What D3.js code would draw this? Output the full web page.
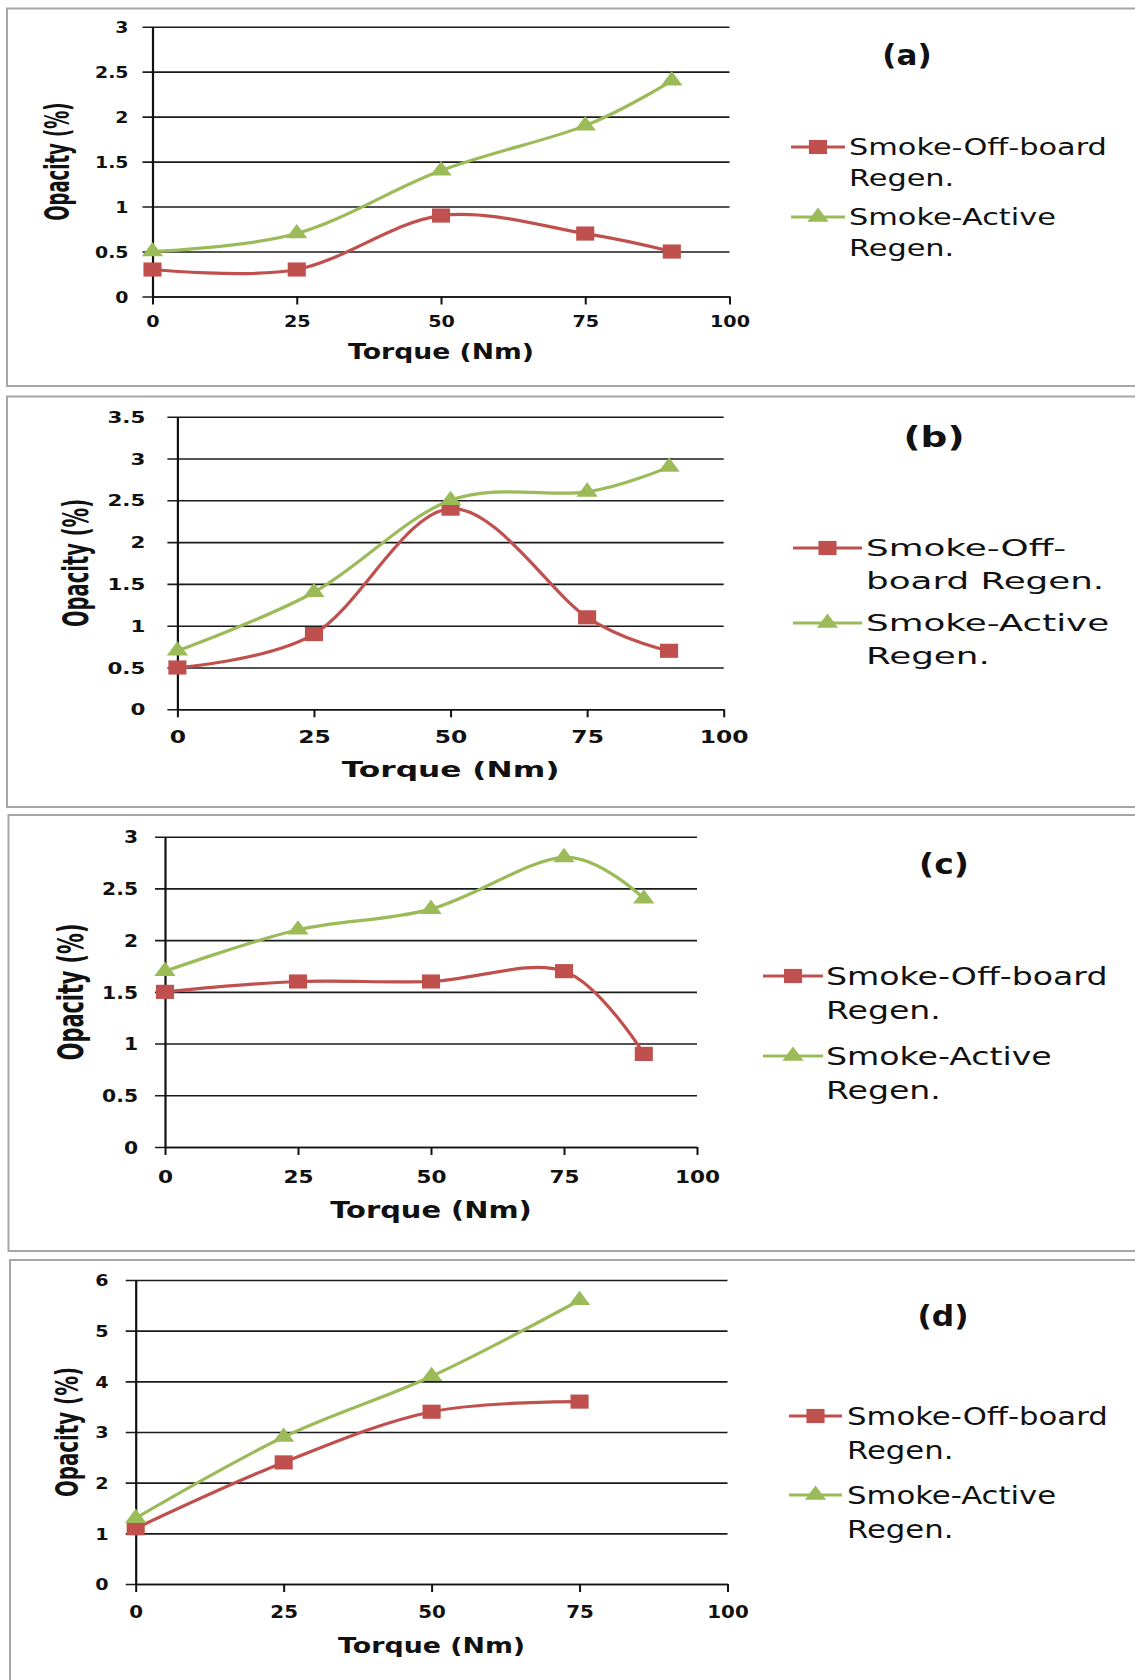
<!DOCTYPE html>
<html>
<head>
<meta charset="utf-8">
<script src="https://cdn.jsdelivr.net/npm/d3@7"></script>
<style>
  body { margin: 0; background: #fff; }
  svg { display: block; }
</style>
</head>
<body>
<div id="chart"></div>
<script>
// torque settings (Nm)
const torque = [0, 25, 50, 75, 90];
const torqueD = [0, 25, 50, 75];
const torqueTicks = [0, 25, 50, 75, 100];

// opacity (%)
const offboardA = [0.3, 0.3, 0.9, 0.7, 0.5];
const activeA = [0.5, 0.7, 1.4, 1.9, 2.4];
const offboardB = [0.5, 0.9, 2.4, 1.1, 0.7];
const activeB = [0.7, 1.4, 2.5, 2.6, 2.9];
const offboardC = [1.5, 1.6, 1.6, 1.7, 0.9];
const activeC = [1.7, 2.1, 2.3, 2.8, 2.4];
const offboardD = [1.1, 2.4, 3.4, 3.6];
const activeD = [1.3, 2.9, 4.1, 5.6];

// y tick labels
const yTicks3 = [0, 0.5, 1, 1.5, 2, 2.5, 3];
const yTicks35 = [0, 0.5, 1, 1.5, 2, 2.5, 3, 3.5];
const yTicks6 = [0, 1, 2, 3, 4, 5, 6];

const panelLabels = ['(a)', '(b)', '(c)', '(d)'];
const xTitle = 'Torque (Nm)';
const yTitle = 'Opacity (%)';
// legend text, already broken into lines like the original
const legendWrapped = [['Smoke-Off-board', 'Regen.'], ['Smoke-Active', 'Regen.']];
const legendWrappedB = [['Smoke-Off-', 'board Regen.'], ['Smoke-Active', 'Regen.']];

const W = 1135, H = 1680;
const RED = '#C0504D', GREEN = '#9BBB59', INK = '#111';
const FONT = 'DejaVu Sans';

// layout of every panel (pixels), kept apart from the data
const panels = [
  { label: panelLabels[0], xs: torque, series: [offboardA, activeA], yTicks: yTicks3, legend: legendWrapped,
    box: [7, 8.5, 386], plot: [152.5, 729.5, 26.7, 296.5], sx: 1.35,
    yPad: 24, fy: 14, xLab: 30, fx: 14.2, tOff: 62, ft: 19.8,
    op: [69, 18, 1.89], title: [907, 55, 29, 1.07], leg: [791, 845, 849, [147, 217], 31, 22.5] },
  { label: panelLabels[1], xs: torque, series: [offboardB, activeB], yTicks: yTicks35, legend: legendWrappedB,
    box: [7, 396.5, 807], plot: [177.4, 723.7, 416.7, 709.3], sx: 1.52,
    yPad: 32, fy: 14.1, xLab: 33, fx: 15.4, tOff: 68, ft: 20.6,
    op: [88, 19.5, 1.82], title: [934, 437, 29, 1.29], leg: [793, 862, 866, [548, 623], 33, 23.5] },
  { label: panelLabels[2], xs: torque, series: [offboardC, activeC], yTicks: yTicks3, legend: legendWrapped,
    box: [8.5, 815, 1251], plot: [165, 697, 836.7, 1147], sx: 1.30,
    yPad: 27, fy: 15.6, xLab: 35, fx: 16.6, tOff: 71, ft: 22.3,
    op: [83, 20.8, 1.68], title: [944, 864, 29, 1.14], leg: [763, 823, 826, [976, 1056], 34, 25.5] },
  { label: panelLabels[3], xs: torqueD, series: [offboardD, activeD], yTicks: yTicks6, legend: legendWrapped,
    box: [10, 1260, 1700], plot: [135.7, 727.5, 1280, 1584], sx: 1.28,
    yPad: 27, fy: 15, xLab: 33, fx: 15.5, tOff: 69, ft: 21,
    op: [78, 19.8, 1.62], title: [943, 1316, 29, 1.08], leg: [789, 842, 847, [1416, 1495], 34, 24] }
];

const svg = d3.select('#chart').append('svg')
  .attr('width', W).attr('height', H)
  .attr('font-family', FONT);

svg.append('rect').attr('width', W).attr('height', H).attr('fill', '#fff');

const seriesColors = [RED, GREEN];
const markerTypes = [d3.symbolSquare, d3.symbolTriangle];
const markerSizes = [200, 120];

function marker(parent, i, cx, cy) {
  parent.append('path')
    .attr('d', d3.symbol(markerTypes[i], markerSizes[i])())
    .attr('transform', `translate(${cx},${cy}) scale(1.28,1)`)
    .attr('fill', seriesColors[i]);
}

// text with the horizontal stretch of the original screenshot
function stretched(parent, txt, x, y, sx, rotate) {
  return parent.append('text')
    .attr('transform', `translate(${x},${y}) scale(${sx},1)` + (rotate ? ' rotate(-90)' : ''))
    .attr('fill', INK)
    .text(txt);
}

function drawPanel(p) {
  const g = svg.append('g');

  g.append('rect')
    .attr('x', p.box[0]).attr('y', p.box[1])
    .attr('width', W + 20 - p.box[0]).attr('height', p.box[2] - p.box[1])
    .attr('fill', '#fff').attr('stroke', '#a6a6a6').attr('stroke-width', 2);

  const [x0, x1, yTop, yBot] = p.plot;
  const x = d3.scaleLinear().domain([0, 100]).range([x0, x1]);
  const y = d3.scaleLinear().domain([0, d3.max(p.yTicks)]).range([yBot, yTop]);

  // horizontal gridlines, starting at the outside tick marks
  const grid = g.append('g')
    .attr('transform', `translate(${x0 - 10},0)`)
    .call(d3.axisLeft(y).tickValues(p.yTicks).tickSize(-(x1 - x0 + 10)).tickFormat(''));
  grid.select('.domain').remove();
  grid.selectAll('line').attr('stroke', '#1a1a1a').attr('stroke-width', 1.6);

  // tick labels are a bit taller than they are wide in the original
  const fy = p.fy + 1.6, sy = p.sx * p.fy / fy;
  const fx = p.fx + 1.6, sxx = p.sx * p.fx / fx;

  // y axis line and labels
  const yAxis = g.append('g')
    .attr('transform', `translate(${x0},0)`)
    .call(d3.axisLeft(y).tickValues(p.yTicks).tickSize(0).tickSizeOuter(0).tickFormat(d3.format('')));
  yAxis.attr('font-family', null).attr('font-size', null);
  yAxis.select('.domain').attr('stroke', '#111').attr('stroke-width', 2.2);
  yAxis.selectAll('text')
    .attr('x', -p.yPad / sy)
    .attr('dy', '0.36em')
    .attr('transform', `scale(${sy},1)`)
    .attr('font-size', fy).attr('font-weight', 'bold').attr('fill', INK);

  // x axis ticks and labels
  const xAxis = g.append('g')
    .attr('transform', `translate(0,${yBot})`)
    .call(d3.axisBottom(x).tickValues(torqueTicks).tickSize(8).tickSizeOuter(0));
  xAxis.attr('font-family', null).attr('font-size', null);
  xAxis.select('.domain').attr('stroke', '#111').attr('stroke-width', 1.6);
  xAxis.selectAll('line').attr('stroke', '#111').attr('stroke-width', 2);
  xAxis.selectAll('text')
    .attr('y', p.xLab + 1).attr('dy', null)
    .attr('transform', `scale(${sxx},1)`)
    .attr('font-size', fx).attr('font-weight', 'bold').attr('fill', INK);

  // axis titles
  stretched(g, xTitle, (x0 + x1) / 2, yBot + p.tOff, p.sx * 0.95)
    .attr('text-anchor', 'middle').attr('font-size', p.ft * 1.05).attr('font-weight', 'bold');
  stretched(g, yTitle, p.op[0], (yTop + yBot) / 2, p.op[2], true)
    .attr('text-anchor', 'middle').attr('font-size', p.op[1]).attr('font-weight', 'bold');

  // smoothed series lines and markers
  const line = d3.line()
    .x(d => x(d[0]))
    .y(d => y(d[1]))
    .curve(d3.curveCardinal.tension(0));

  p.series.forEach((vals, i) => {
    const pts = p.xs.map((t, k) => [t, vals[k]]);
    g.append('path')
      .attr('d', line(pts))
      .attr('fill', 'none')
      .attr('stroke', seriesColors[i])
      .attr('stroke-width', 3.2)
      .attr('stroke-linejoin', 'round');
    pts.forEach(d => marker(g, i, x(d[0]), y(d[1])));
  });

  // panel label
  stretched(g, p.label, p.title[0], p.title[1], p.title[3])
    .attr('text-anchor', 'middle').attr('dy', '0.35em')
    .attr('font-size', p.title[2]).attr('font-weight', 'bold');

  // legend
  const [lx1, lx2, tx, rows, ls, fs] = p.leg;
  p.legend.forEach((lines, i) => {
    const ly = rows[i];
    g.append('line')
      .attr('x1', lx1).attr('x2', lx2).attr('y1', ly).attr('y2', ly)
      .attr('stroke', seriesColors[i]).attr('stroke-width', 3.2);
    marker(g, i, (lx1 + lx2) / 2, ly);
    lines.forEach((txt, k) => {
      stretched(g, txt, tx, ly + k * ls, p.sx)
        .attr('dy', '0.36em').attr('font-size', fs);
    });
  });
}

panels.forEach(drawPanel);
</script>
</body>
</html>
